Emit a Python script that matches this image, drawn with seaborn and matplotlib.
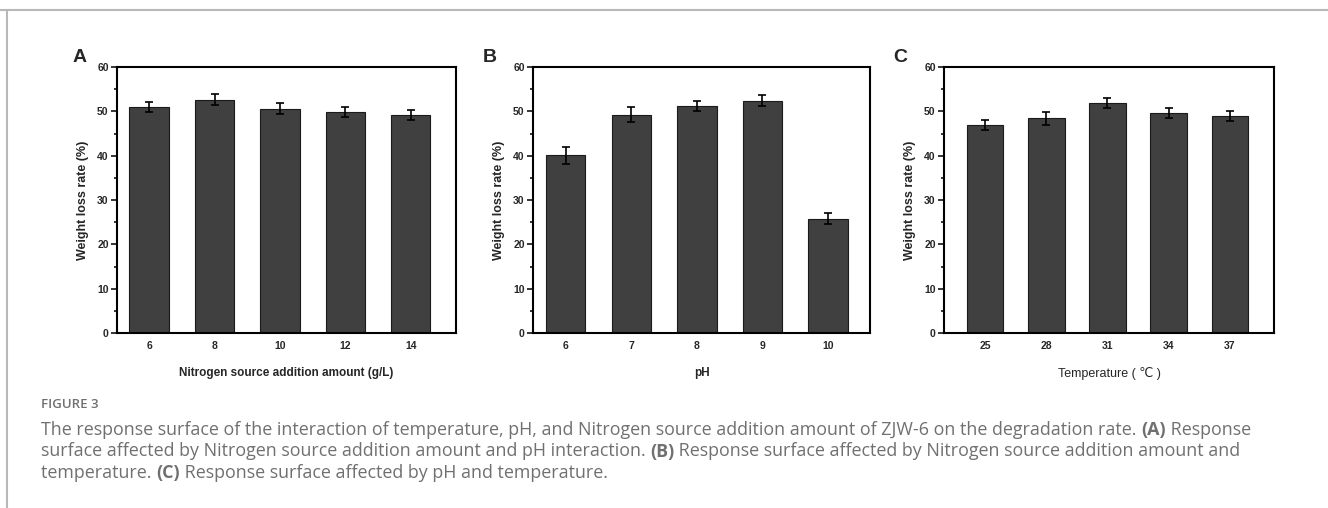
import numpy as np
import pandas as pd
import seaborn as sns
import matplotlib.pyplot as plt
from matplotlib.ticker import MultipleLocator
from matplotlib.lines import Line2D

# valores
nitrogen = ["6", "8", "10", "12", "14"]
nitrogen_rate = [51.0, 52.6, 50.6, 49.8, 49.2]
nitrogen_err = [1.05, 1.25, 1.25, 1.1, 1.1]

ph = ["6", "7", "8", "9", "10"]
ph_rate = [40.1, 49.2, 51.2, 52.4, 25.8]
ph_err = [1.95, 1.7, 1.1, 1.3, 1.3]

temp = ["25", "28", "31", "34", "37"]
temp_rate = [47.0, 48.4, 51.9, 49.6, 49.0]
temp_err = [1.15, 1.4, 1.1, 1.15, 1.1]

sns.set_style("white")
plt.rcParams['font.family'] = ['Liberation Sans', 'DejaVu Sans']

fig = plt.figure(figsize=(13.28, 5.08), dpi=100)

# moldura cinza do painel
fig.add_artist(Line2D([0.0, 1.0], [1 - 10 / 508, 1 - 10 / 508], color="#b8b8b8", lw=1.5))
fig.add_artist(Line2D([7 / 1328, 7 / 1328], [0.0, 1 - 10 / 508], color="#b8b8b8", lw=1.5))

panels = [
    ("A", nitrogen, nitrogen_rate, nitrogen_err, "Nitrogen source addition amount (g/L)",
     117, 339, (-0.49, 4.69), 73, "bold", 8.5),
    ("B", ph, ph_rate, ph_err, "pH", 533, 337, (-0.5, 4.64), 483, "bold", 8.5),
    ("C", temp, temp_rate, temp_err, "Temperature ( \u2103 )", 944, 330, (-0.67, 4.72), 893, "normal", 9),
]

for letter, cats, vals, errs, xlabel, left, width, xlim, lx, xw, xs in panels:
    ax = fig.add_axes([left / 1328, 1 - 333 / 508, width / 1328, 266 / 508])
    df = pd.DataFrame({"cat": cats, "val": vals})
    sns.barplot(data=df, x="cat", y="val", order=cats, color="#404040", saturation=1,
                width=0.6, edgecolor="#1a1a1a", linewidth=0.8, errorbar=None, ax=ax)
    xs_pos = [p.get_x() + p.get_width() / 2 for p in ax.patches]
    ax.errorbar(xs_pos, vals, yerr=errs, fmt="none", ecolor="black", elinewidth=1.2,
                capsize=3, capthick=1.2)
    ax.set_ylim(0, 60)
    ax.set_xlim(*xlim)
    ax.yaxis.set_major_locator(MultipleLocator(10))
    ax.yaxis.set_minor_locator(MultipleLocator(5))
    ax.tick_params(axis="y", which="major", direction="out", length=4, width=1.3,
                   labelsize=7.5, pad=2, left=True)
    ax.tick_params(axis="y", which="minor", direction="out", length=2.5, width=1.3, left=True)
    ax.tick_params(axis="x", length=0, labelsize=7.5, pad=6)
    for lab in ax.get_xticklabels() + ax.get_yticklabels():
        lab.set_fontweight("bold")
    for sp in ax.spines.values():
        sp.set_visible(True)
        sp.set_color("black")
        sp.set_linewidth(1.5)
    ax.set_ylabel("Weight loss rate (%)", fontsize=9, fontweight="bold", labelpad=6)
    ax.set_xlabel(xlabel, fontsize=xs, fontweight=xw, labelpad=11)
    fig.text(lx / 1328, 1 - 58 / 508, letter, fontsize=14, fontweight="bold",
             ha="left", va="center")

# legenda da figura
cap_color = "#707070"
fig.text(41 / 1328, 1 - 405 / 508, "FIGURE 3", fontsize=9.5, color=cap_color,
         family="Open Sans", fontweight="semibold", va="center")
lines = [
    [("The response surface of the interaction of temperature, pH, and Nitrogen source addition amount of ZJW-6 on the degradation rate. ", "normal"),
     ("(A)", "bold"), (" Response", "normal")],
    [("surface affected by Nitrogen source addition amount and pH interaction. ", "normal"),
     ("(B)", "bold"), (" Response surface affected by Nitrogen source addition amount and", "normal")],
    [("temperature. ", "normal"), ("(C)", "bold"), (" Response surface affected by pH and temperature.", "normal")],
]
fig.canvas.draw()
renderer = fig.canvas.get_renderer()
for i, parts in enumerate(lines):
    y = 1 - (435 + 21.5 * i) / 508
    x = 41 / 1328
    for txt, w in parts:
        t = fig.text(x, y, txt, fontsize=12.9, color=cap_color, family="Open Sans",
                     fontweight=w, va="baseline")
        bb = t.get_window_extent(renderer=renderer)
        x += bb.width / fig.bbox.width

fig.savefig("out.png", dpi=100)
